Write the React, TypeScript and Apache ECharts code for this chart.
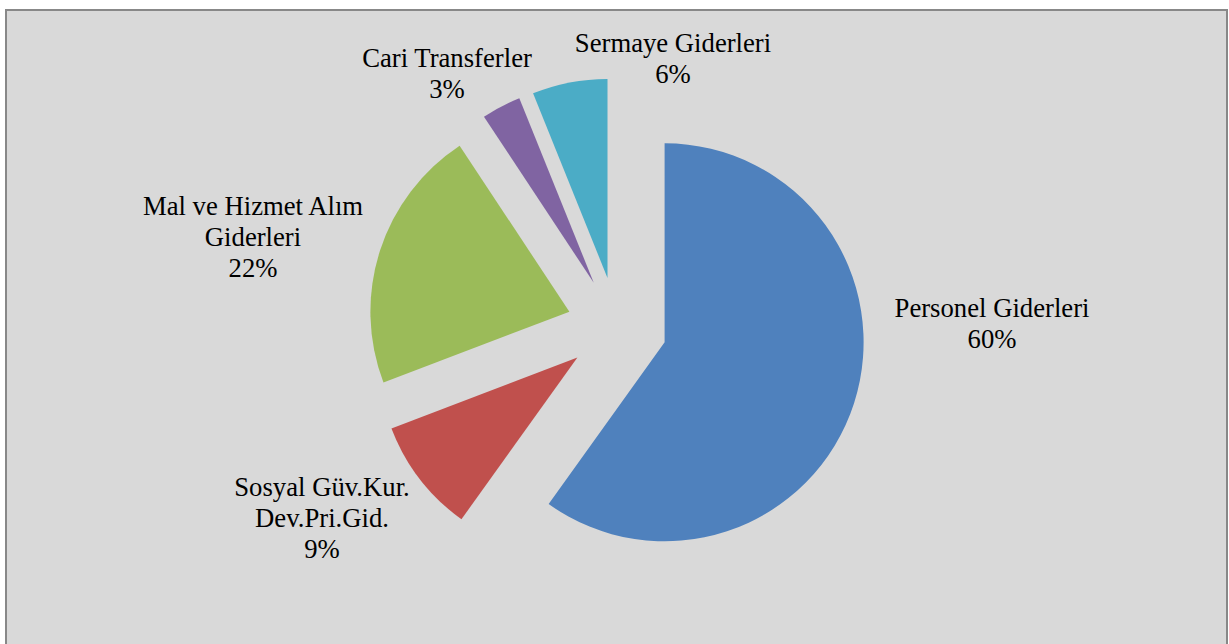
import React, { useEffect, useRef } from "react";
import * as echarts from "echarts";

const categories = [
  "Personel Giderleri",
  "Sosyal Güv.Kur. Dev.Pri.Gid.",
  "Mal ve Hizmet Alım Giderleri",
  "Cari Transferler",
  "Sermaye Giderleri",
];
const labelTexts = [
  "Personel Giderleri",
  "Sosyal Güv.Kur.\nDev.Pri.Gid.",
  "Mal ve Hizmet Alım\nGiderleri",
  "Cari Transferler",
  "Sermaye Giderleri",
];
const values = [59.9, 9.3, 21.5, 3.2, 6.1];
const colors = ["#4f81bd", "#c0504d", "#9bbb59", "#8064a2", "#4bacc6"];
// label block centres (layout styling)
const labelAnchors: [number, number][] = [
  [992, 323],
  [322, 518],
  [253, 237],
  [447, 73],
  [673, 58],
];

export default function App() {
  const ref = useRef<HTMLDivElement>(null);
  useEffect(() => {
    if (!ref.current) return;
    const chart = echarts.init(ref.current, undefined, { renderer: "svg" });
    const total = values.reduce((a, b) => a + b, 0);
    chart.setOption({
      animation: false,
      backgroundColor: "#ffffff",
      graphic: [
        {
          type: "rect",
          z: 0,
          shape: { x: 6, y: 10, width: 1221, height: 660 },
          style: { fill: "#d9d9d9", stroke: "#888888", lineWidth: 2 },
          silent: true,
        },
        ...categories.map((_, i) => ({
          type: "text",
          z: 10,
          x: labelAnchors[i][0],
          y: labelAnchors[i][1],
          silent: true,
          style: {
            text: `${labelTexts[i]}\n${Math.round((values[i] / total) * 100)}%`,
            fill: "#000000",
            fontFamily: "Liberation Serif",
            fontSize: 26.7,
            lineHeight: 31,
            align: "center",
            verticalAlign: "middle",
          },
        })),
      ],
      series: [
        {
          type: "pie",
          z: 2,
          center: [617, 327],
          radius: [0, 199],
          startAngle: 90,
          clockwise: true,
          selectedMode: "multiple",
          selectedOffset: 50,
          avoidLabelOverlap: false,
          emphasis: { disabled: true },
          itemStyle: { borderWidth: 0 },
          label: { show: false },
          labelLine: { show: false },
          data: categories.map((name, i) => ({
            name,
            value: values[i],
            selected: true,
            itemStyle: { color: colors[i] },
          })),
        },
      ],
    });
    return () => chart.dispose();
  }, []);
  return (
    <div
      ref={ref}
      style={{ position: "fixed", left: 0, top: 0, width: 1229, height: 644 }}
    />
  );
}
